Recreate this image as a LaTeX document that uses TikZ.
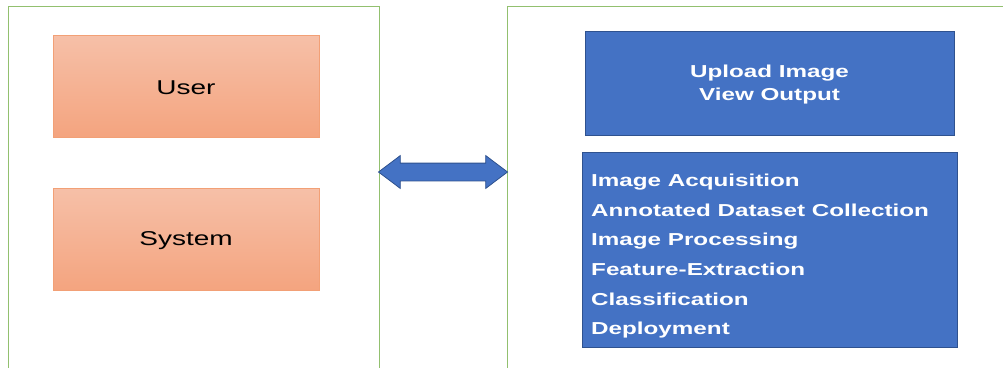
\documentclass[tikz,border=0pt]{standalone}
\usepackage{fontspec}
\setmainfont{Liberation Sans}
\newfontfamily\widesans[FakeStretch=1.4]{Liberation Sans}
\usetikzlibrary{shapes.arrows,calc}
\definecolor{frameg}{HTML}{92C06F}
\definecolor{salmonT}{HTML}{F6C0A8}
\definecolor{salmonB}{HTML}{F4A47F}
\definecolor{salmonD}{HTML}{F2A076}
\definecolor{blueF}{HTML}{4472C4}
\definecolor{blueD}{HTML}{2F528F}
\tikzset{
  frame/.style={draw=frameg, line width=0.9pt},
  pinkbox/.style={draw=salmonD, line width=0.8pt, top color=salmonT, bottom color=salmonB,
    minimum width=266pt, minimum height=102pt, inner sep=0pt, text height=18pt,
    font=\widesans\fontsize{20pt}{22pt}\selectfont},
  bluebox/.style={draw=blueD, line width=0.8pt, fill=blueF, text=white,
    font=\widesans\bfseries\fontsize{17.3pt}{23pt}\selectfont, inner sep=0pt},
  link/.style={double arrow, draw=blueD, line width=0.8pt, fill=blueF,
    minimum height=129pt, minimum width=32pt, inner sep=8.5pt,
    double arrow head extend=7.5pt, double arrow tip angle=74}
}
\begin{document}
\begin{tikzpicture}[x=1pt,y=-1pt]
\useasboundingbox (0,0) rectangle (1003,367);
\fill[white] (0,0) rectangle (1003,367);
% frames
\draw[frame] (8,400) -- (8,6) -- (379,6) -- (379,400);
\draw[frame] (507,400) -- (507,6) -- (1010,6);
\coordinate (lf) at (379,172);
\coordinate (rf) at (507,172);
% left boxes
\node[pinkbox] (user) at (186,86) {User};
\node[pinkbox] (system) at (186,239) {System};
% right boxes
\node[bluebox, minimum width=369pt, minimum height=104pt, align=center, text depth=1pt] (upload) at (769.5,83)
  {Upload Image\\View Output};
\node[bluebox, minimum width=375pt, minimum height=195pt] (steps) at (769.5,249.5) {};
\node[anchor=north west, inner sep=0pt, text=white, align=left,
  font=\widesans\bfseries\fontsize{17.3pt}{29.6pt}\selectfont] (list) at (591,174)
  {Image Acquisition\\Annotated Dataset Collection\\Image Processing\\Feature-Extraction\\Classification\\Deployment};
% double arrow
\node[link] (arr) at ($(lf)!0.5!(rf)$) {};
\end{tikzpicture}
\end{document}
